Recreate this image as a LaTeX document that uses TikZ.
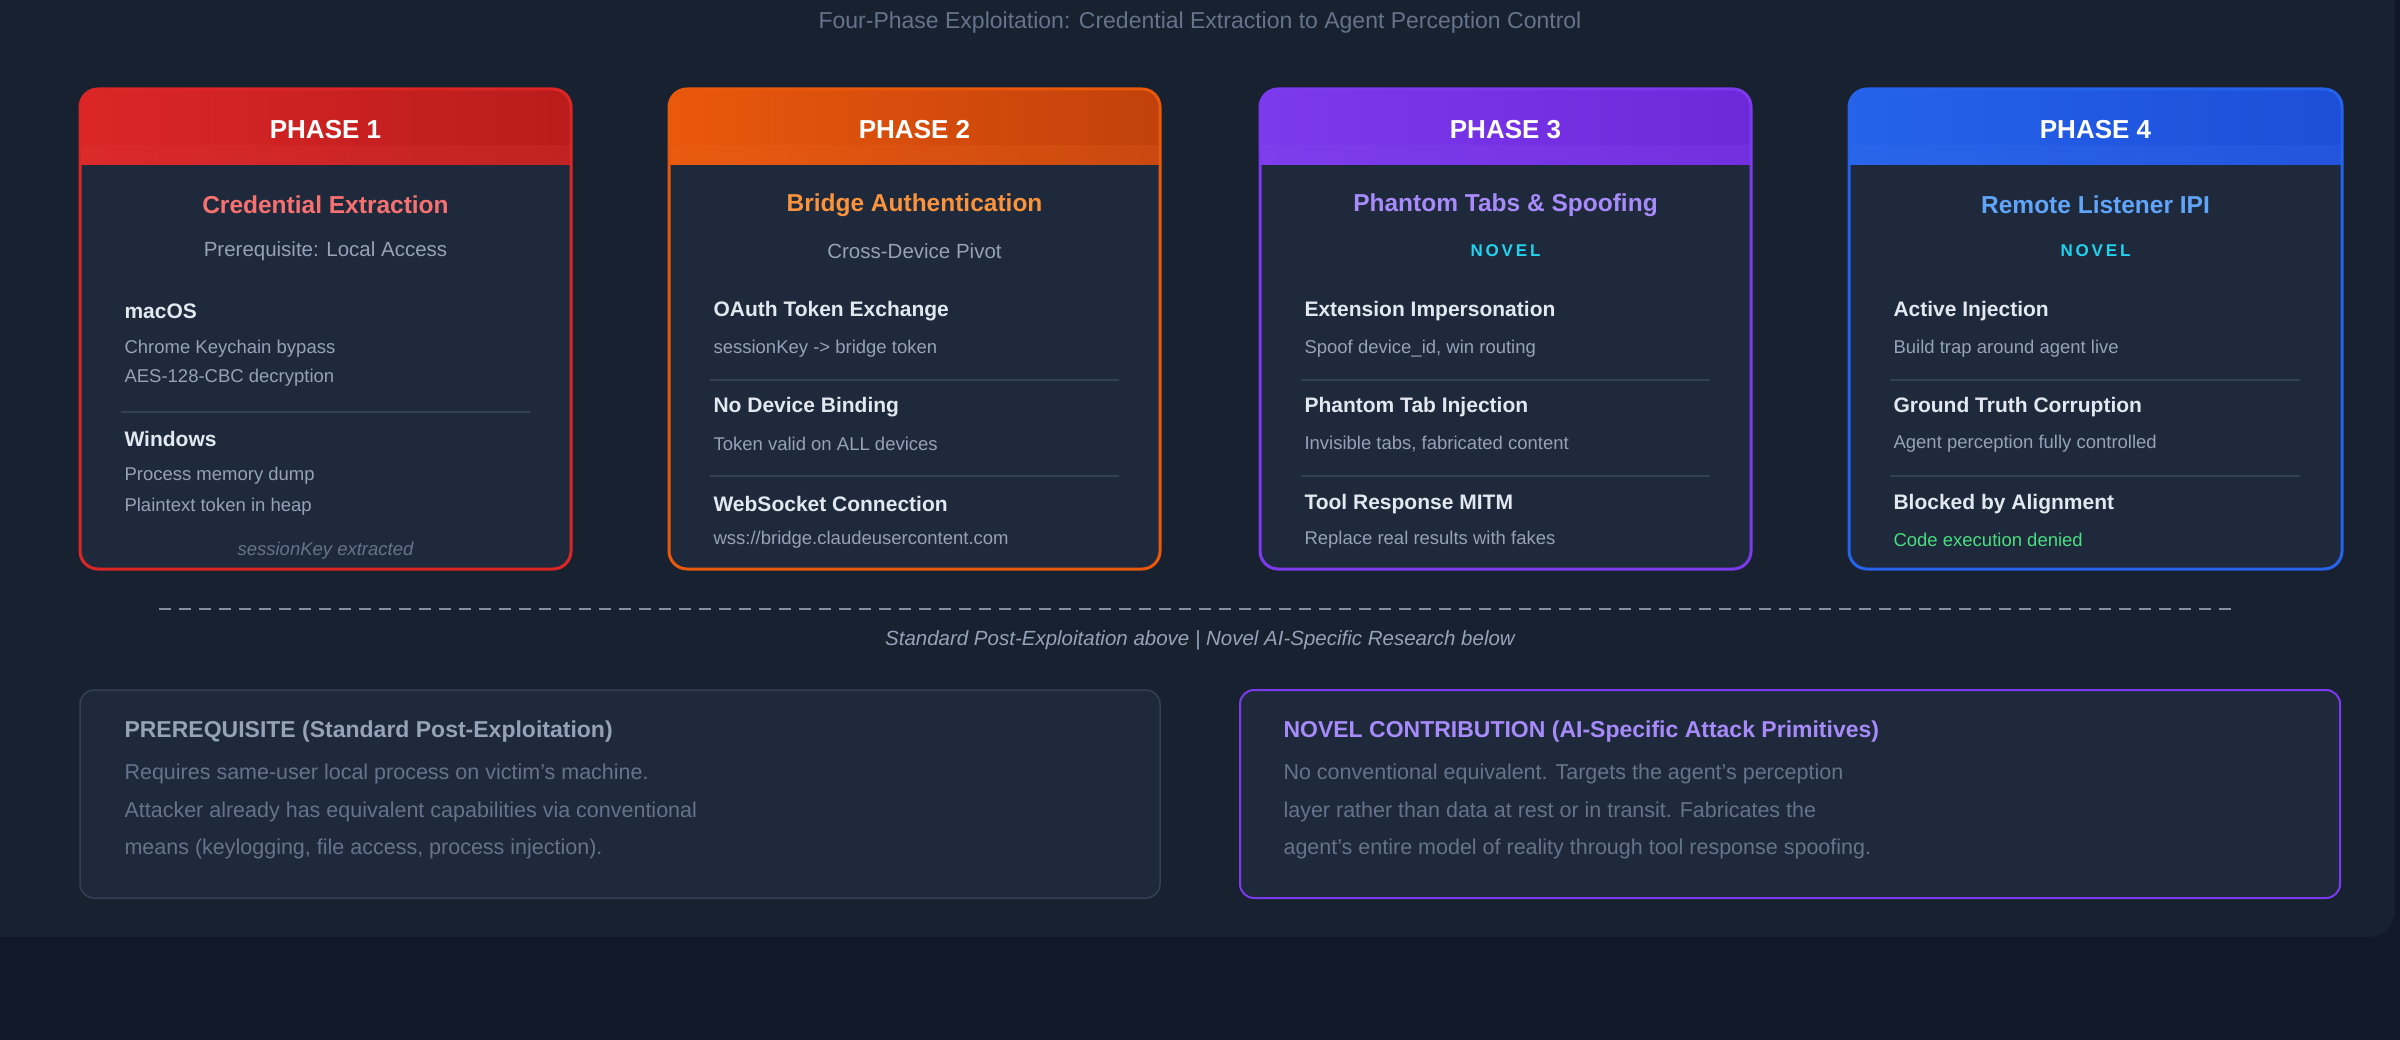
\documentclass[tikz,border=0pt]{standalone}
\usepackage{fontspec}
\setmainfont{Liberation Sans}
\usetikzlibrary{calc}
\definecolor{bgout}{HTML}{111827}
\definecolor{panel}{HTML}{182130}
\definecolor{cardbody}{HTML}{1E293B}
\definecolor{sepc}{HTML}{334155}
\definecolor{itemc}{HTML}{E2E8F0}
\definecolor{descc}{HTML}{94A3B8}
\definecolor{dimc}{HTML}{64748B}
\definecolor{novelc}{HTML}{22D3EE}
\definecolor{greenc}{HTML}{4ADE80}
\definecolor{redA}{HTML}{DC2626}\definecolor{redB}{HTML}{B91C1C}\definecolor{redT}{HTML}{F87171}
\definecolor{orA}{HTML}{EA580C}\definecolor{orB}{HTML}{C2410C}\definecolor{orT}{HTML}{FB923C}
\definecolor{puA}{HTML}{7C3AED}\definecolor{puB}{HTML}{6D28D9}\definecolor{puT}{HTML}{A78BFA}
\definecolor{blA}{HTML}{2563EB}\definecolor{blB}{HTML}{1D4ED8}\definecolor{blT}{HTML}{60A5FA}
\tikzset{
  hdr/.style={font=\fontsize{26}{28}\selectfont\bfseries, text=white},
  ttl/.style={font=\fontsize{24.5}{28}\selectfont\bfseries},
  sub/.style={font=\fontsize{20.5}{24}\selectfont, text=descc},
  novel/.style={font=\fontsize{17}{20}\selectfont\bfseries, text=novelc},
  item/.style={anchor=west, font=\fontsize{21}{24}\selectfont\bfseries, text=itemc},
  desc/.style={anchor=west, font=\fontsize{18.5}{22}\selectfont, text=descc},
  sepl/.style={draw=sepc, line width=1.5pt},
  btitle/.style={anchor=west, font=\fontsize{23}{26}\selectfont\bfseries},
  btext/.style={anchor=west, font=\fontsize{21.5}{24}\selectfont, text=dimc},
}
\newcommand{\mycard}[4]{% x1, x2, colA, colB
  \fill[cardbody, rounded corners=18] (#1,89) rectangle (#2,569);
  \begin{scope}
    \clip[rounded corners=18] (#1,89) rectangle (#2,569);
    \shade[left color=#3, right color=#4] (#1,89) rectangle (#2,165);
    \fill[#3!90!white, opacity=0.2] (#1,145) rectangle (#2,165);
  \end{scope}
  \draw[#3, line width=3pt, rounded corners=18] (#1,89) rectangle (#2,569);
}
\begin{document}
\begin{tikzpicture}[x=1pt,y=-1pt]
\fill[bgout] (0,0) rectangle (2400,1040);
\useasboundingbox (0,0) rectangle (2400,1040);
\fill[panel, rounded corners=26] (-40,-40) rectangle (2395,937);
\node[font=\fontsize{23}{26}\selectfont, text=dimc] (title) at (1200,23) {Four-Phase Exploitation: Credential Extraction to Agent Perception Control};

% Card 1
\mycard{80}{571}{redA}{redB}
\node[hdr] (h1) at (325.5,130) {PHASE 1};
\node[ttl, text=redT] (t1) at (325.5,205) {Credential Extraction};
\node[sub] (s1) at (325.5,251) {Prerequisite: Local Access};
\node[item] (a1) at (121,311) {macOS};
\node[desc] (a1d) at (121,349) {Chrome Keychain bypass};
\node[desc] (a1e) at (121,378) {AES-128-CBC decryption};
\draw[sepl] (121,412) -- (530,412);
\node[item] (b1) at (121,439) {Windows};
\node[desc] (b1d) at (121,476) {Process memory dump};
\node[desc] (b1e) at (121,507) {Plaintext token in heap};
\node[font=\fontsize{18.5}{22}\selectfont\itshape, text=dimc] (f1) at (325.5,551) {sessionKey extracted};

% Card 2
\mycard{669}{1160}{orA}{orB}
\node[hdr] (h2) at (914.5,130) {PHASE 2};
\node[ttl, text=orT] (t2) at (914.5,205) {Bridge Authentication};
\node[sub] (s2) at (914.5,251) {Cross-Device Pivot};
\node[item] (a2) at (710,311) {OAuth Token Exchange};
\node[desc] (a2d) at (710,349) {sessionKey -> bridge token};
\draw[sepl] (710,380) -- (1119,380);
\node[item] (b2) at (710,407) {No Device Binding};
\node[desc] (b2d) at (710,444) {Token valid on ALL devices};
\draw[sepl] (710,476) -- (1119,476);
\node[item] (c2) at (710,504) {WebSocket Connection};
\node[desc] (c2d) at (710,540) {wss://bridge.claudeusercontent.com};

% Card 3
\mycard{1260}{1751}{puA}{puB}
\node[hdr] (h3) at (1505.5,130) {PHASE 3};
\node[ttl, text=puT] (t3) at (1505.5,205) {Phantom Tabs \& Spoofing};
\node[novel] (n3) at (1505.5,251) {N\,O\,V\,E\,L};
\node[item] (a3) at (1301,311) {Extension Impersonation};
\node[desc] (a3d) at (1301,349) {Spoof device\_id, win routing};
\draw[sepl] (1301,380) -- (1710,380);
\node[item] (b3) at (1301,407) {Phantom Tab Injection};
\node[desc] (b3d) at (1301,444) {Invisible tabs, fabricated content};
\draw[sepl] (1301,476) -- (1710,476);
\node[item] (c3) at (1301,504) {Tool Response MITM};
\node[desc] (c3d) at (1301,540) {Replace real results with fakes};

% Card 4
\mycard{1849}{2342}{blA}{blB}
\node[hdr] (h4) at (2095.5,130) {PHASE 4};
\node[ttl, text=blT] (t4) at (2095.5,205) {Remote Listener IPI};
\node[novel] (n4) at (2095.5,251) {N\,O\,V\,E\,L};
\node[item] (a4) at (1890,311) {Active Injection};
\node[desc] (a4d) at (1890,349) {Build trap around agent live};
\draw[sepl] (1890,380) -- (2300,380);
\node[item] (b4) at (1890,407) {Ground Truth Corruption};
\node[desc] (b4d) at (1890,444) {Agent perception fully controlled};
\draw[sepl] (1890,476) -- (2300,476);
\node[item] (c4) at (1890,504) {Blocked by Alignment};
\node[desc, text=greenc] (c4d) at (1890,540) {Code execution denied};

% Divider
\draw[dimc!80, line width=1.5pt, dash pattern=on 12pt off 8pt] (159,609) -- (2235,609);
\node[font=\fontsize{20.5}{24}\selectfont\itshape, text=descc] (div) at (1200,640) {Standard Post-Exploitation above | Novel AI-Specific Research below};

% Bottom boxes
\draw[sepc, fill=cardbody, line width=1.5pt, rounded corners=14] (80,690) rectangle (1160,898);
\node[btitle, text=descc] (p1) at (121,732) {PREREQUISITE (Standard Post-Exploitation)};
\node[btext] (p2) at (121,774) {Requires same-user local process on victim's machine.};
\node[btext] (p3) at (121,812) {Attacker already has equivalent capabilities via conventional};
\node[btext] (p4) at (121,849) {means (keylogging, file access, process injection).};

\draw[puA, fill=cardbody, line width=2pt, rounded corners=14] (1240,690) rectangle (2340,898);
\node[btitle, text=puT] (q1) at (1280,732) {NOVEL CONTRIBUTION (AI-Specific Attack Primitives)};
\node[btext] (q2) at (1280,774) {No conventional equivalent. Targets the agent's perception};
\node[btext] (q3) at (1280,812) {layer rather than data at rest or in transit. Fabricates the};
\node[btext] (q4) at (1280,849) {agent's entire model of reality through tool response spoofing.};
\end{tikzpicture}
\end{document}
